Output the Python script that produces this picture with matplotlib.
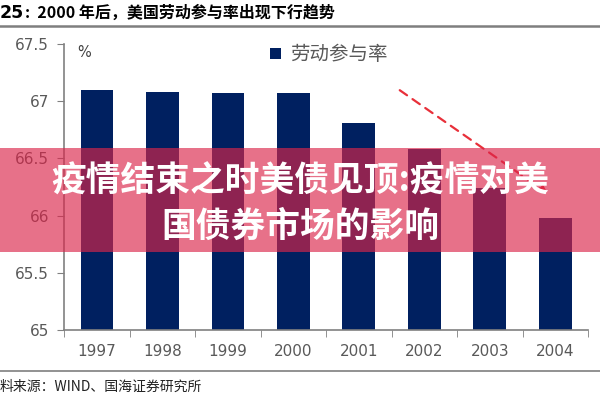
import matplotlib
matplotlib.use("Agg")
import matplotlib.pyplot as plt
from matplotlib.patches import Rectangle, Patch
import numpy as np

plt.rcParams['font.family'] = ['Noto Sans CJK SC', 'DejaVu Sans']

years = ['1997', '1998', '1999', '2000', '2001', '2002', '2003', '2004']
participation = [67.1, 67.08, 67.07, 67.07, 66.81, 66.58, 66.24, 65.98]
y_ticks = [65, 65.5, 66, 66.5, 67, 67.5]
y_tick_labels = ['65', '65.5', '66', '66.5', '67', '67.5']
series_name = '劳动参与率'
title_num = '25'
title_text = ':  2000 年后，美国劳动参与率出现下行趋势'
source_text = '料来源：WIND、国海证券研究所'
banner_text = '疫情结束之时美债见顶:疫情对美\n国债券市场的影响'
arrow_start = (4.59, 67.11)
arrow_end = (6.92, 66.18)

navy = '#002060'
gray = '#595959'

fig = plt.figure(figsize=(6, 4), dpi=100)
ax = fig.add_axes([0.107, 0.175, 0.873, 0.715])

x = np.arange(len(years))
ax.bar(x, participation, width=0.5, color=navy, zorder=2)
ax.set_xlim(-0.5, len(years) - 0.5)
ax.set_ylim(65, 67.5)
ax.set_yticks(y_ticks)
ax.set_yticklabels(y_tick_labels)
ax.set_xticks(x)
ax.set_xticklabels(years)
ax.set_xticks(np.arange(-0.5, len(years)), minor=True)
ax.tick_params(axis='x', which='major', length=0, pad=10, labelsize=11, labelcolor=gray)
ax.tick_params(axis='x', which='minor', length=5, direction='out', color='#808080')
ax.tick_params(axis='y', length=5, color='#808080', labelsize=11, labelcolor=gray, pad=6)
for lab in ax.get_xticklabels() + ax.get_yticklabels():
    lab.set_family(['DejaVu Sans'])
for s in ['top', 'right']:
    ax.spines[s].set_visible(False)
for s in ['left', 'bottom']:
    ax.spines[s].set_color('#808080')
    ax.spines[s].set_linewidth(1.2)

ax.text(0.025, 0.995, '%', transform=ax.transAxes, fontsize=10.5, color='#404040',
        ha='left', va='top', family=['DejaVu Sans'])

leg = ax.legend(handles=[Patch(facecolor=navy, label=series_name)], loc='upper left',
                bbox_to_anchor=(0.36, 1.06), frameon=False, fontsize=14,
                handlelength=0.55, handleheight=0.55, handletextpad=0.45)
for t in leg.get_texts():
    t.set_color(gray)

ax.annotate('', xy=arrow_end, xytext=arrow_start,
            arrowprops=dict(arrowstyle='-|>', color='#E8303A', lw=1.6, ls=(0, (4, 3)),
                            mutation_scale=10), zorder=3)

# header and footer
fig.text(0.0, 0.968, title_num, fontsize=12.5, fontweight='bold', ha='left', va='center',
         family=['DejaVu Sans'])
fig.text(0.042, 0.968, title_text, fontsize=11.5, fontweight='bold', ha='left', va='center')
fig.add_artist(plt.Line2D([0, 1], [0.935, 0.935], color='#7f7f7f', lw=1.8))
fig.add_artist(plt.Line2D([0, 1], [0.072, 0.072], color='#7f7f7f', lw=1.2))
fig.text(0.0, 0.032, source_text, fontsize=10, ha='left', va='center', color='#222222')

# banner overlay
fig.add_artist(Rectangle((0, 0.37), 1, 0.26, transform=fig.transFigure,
                         facecolor=(219/255, 37/255, 74/255), alpha=0.65,
                         edgecolor='none', zorder=5))
fig.text(0.5, 0.49, banner_text, fontsize=25, fontweight='bold', color='white',
         ha='center', va='center', linespacing=1.35, zorder=6)

fig.savefig('out.png', dpi=100)
